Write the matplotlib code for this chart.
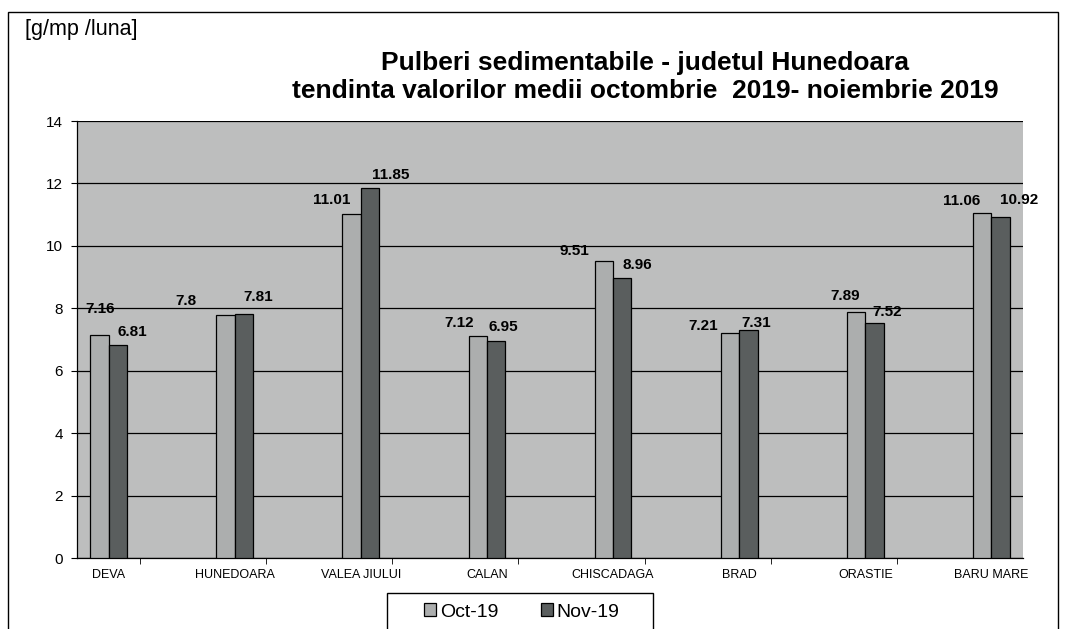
import matplotlib
matplotlib.use("Agg")
import matplotlib.pyplot as plt
import numpy as np
from matplotlib.patches import Rectangle

categories = ["DEVA", "HUNEDOARA", "VALEA JIULUI", "CALAN", "CHISCADAGA", "BRAD", "ORASTIE", "BARU MARE"]
oct_vals = [7.16, 7.8, 11.01, 7.12, 9.51, 7.21, 7.89, 11.06]
nov_vals = [6.81, 7.81, 11.85, 6.95, 8.96, 7.31, 7.52, 10.92]
series_names = ["Oct-19", "Nov-19"]
yticks = [0, 2, 4, 6, 8, 10, 12, 14]

# label offsets in pixels relative to bar top centre (styling)
oct_dx = [1, -40, -20, -19, -29, -27, -11, -21]
oct_dy = [26, 14, 14, 13, 10, 7, 16, 12]
nov_dx = [15, 14, 21, 7, 15, 8, 13, 18]
nov_dy = [13, 17, 13, 14, 13, 7, 11, 17]

plt.rcParams['font.family'] = ['Liberation Sans', 'DejaVu Sans']

fig = plt.figure(figsize=(10.66, 6.29), dpi=100)
ax = fig.add_axes([77/1066, 71/629, (1023-77)/1066, (558-121)/629])

oct_c = "#acaeae"
nov_c = "#5a5e5e"
ax.set_facecolor("#bdbebe")

x = np.arange(len(categories))
w = 0.146
ax.bar(x - w/2, oct_vals, w, color=oct_c, edgecolor="black", linewidth=0.9, label=series_names[0], zorder=3)
ax.bar(x + w/2, nov_vals, w, color=nov_c, edgecolor="black", linewidth=0.9, label=series_names[1], zorder=3)

ax.set_xlim(-0.25, 7.25)
ax.set_ylim(0, 14)
ax.set_yticks(yticks)
ax.set_yticklabels([str(t) for t in yticks], fontsize=11)
ax.yaxis.grid(True, color="black", linewidth=0.9, zorder=1)
ax.set_xticks(x)
ax.set_xticklabels(categories, fontsize=9)
ax.set_xticks(x[:-1] + 0.25, minor=True)
ax.tick_params(axis='x', which='major', length=0, pad=8)
ax.tick_params(axis='x', which='minor', length=4, direction='out')
ax.tick_params(axis='y', length=4, direction='out', pad=6)
for s in ["top", "right"]:
    ax.spines[s].set_visible(False)
ax.spines["left"].set_linewidth(0.9)
ax.spines["bottom"].set_linewidth(0.9)

px = 72 / 100
for i in range(len(categories)):
    ax.annotate(f"{oct_vals[i]:g}", (x[i] - w/2, oct_vals[i]), xytext=(oct_dx[i]*px, oct_dy[i]*px),
                textcoords="offset points", ha="center", va="center", fontsize=11, fontweight="bold")
    ax.annotate(f"{nov_vals[i]:g}", (x[i] + w/2, nov_vals[i]), xytext=(nov_dx[i]*px, nov_dy[i]*px),
                textcoords="offset points", ha="center", va="center", fontsize=11, fontweight="bold")

fig.text(645/1066, 1 - 63/629, "Pulberi sedimentabile - judetul Hunedoara", ha="center", va="center",
         fontsize=19, fontweight="bold")
fig.text(645/1066, 1 - 91/629, "tendinta valorilor medii octombrie  2019- noiembrie 2019", ha="center", va="center",
         fontsize=19, fontweight="bold")
fig.text(25/1066, 1 - 30/629, "[g/mp /luna]", ha="left", va="center", fontsize=15.5)

fig.patches.append(Rectangle((8/1066, -0.05), (1058-8)/1066, 1.05 - 12/629, transform=fig.transFigure,
                             fill=False, edgecolor="black", linewidth=1.0))
# legend frame (cut off at bottom as in the reference)
fig.patches.append(Rectangle((387/1066, -0.05), (653-387)/1066, 0.05 + 1 - 593/629, transform=fig.transFigure,
                             fill=False, edgecolor="black", linewidth=1.0))

leg = fig.legend(loc="center", bbox_to_anchor=(522/1066, 1 - 612/629), ncol=2, fontsize=14,
                 frameon=False, handlelength=0.6, handleheight=0.6,
                 columnspacing=2.2, handletextpad=0.2, borderaxespad=0)

fig.savefig("out.png", dpi=100)
